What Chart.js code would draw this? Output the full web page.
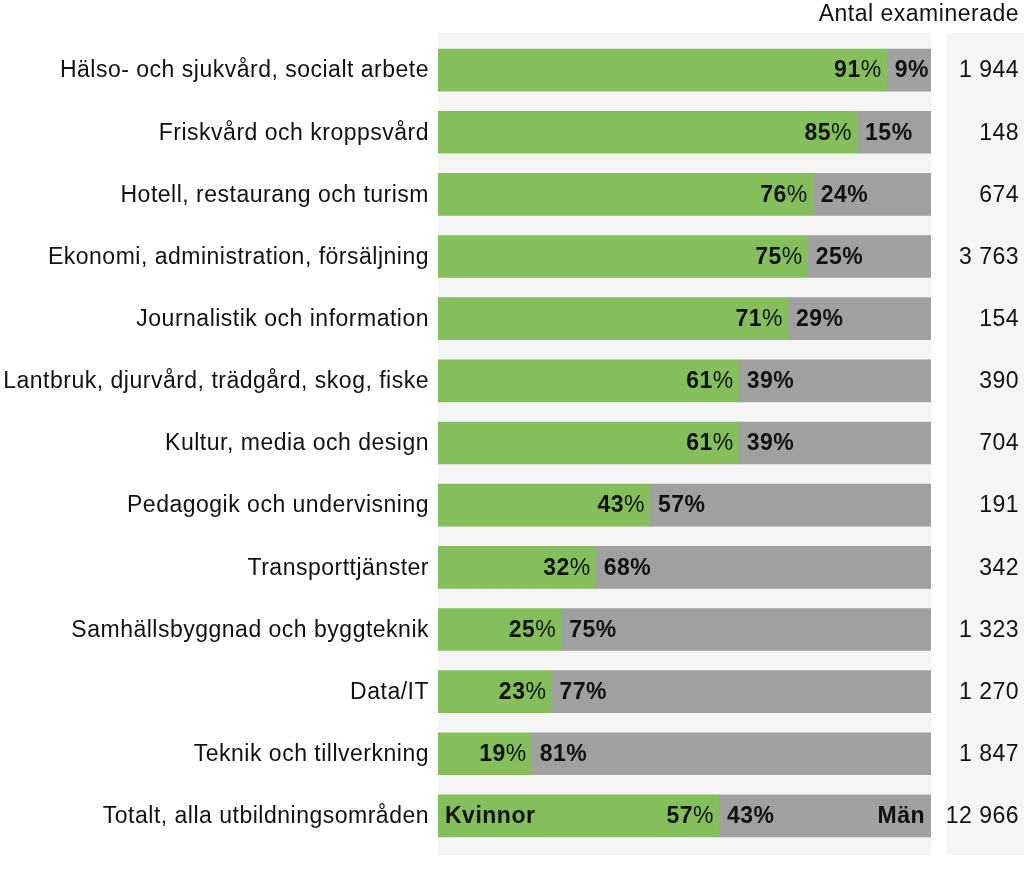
<!DOCTYPE html>
<html>
<head>
<meta charset="utf-8">
<script src="https://cdn.jsdelivr.net/npm/chart.js@4.4.1/dist/chart.umd.min.js"></script>
<style>
  html, body { margin: 0; padding: 0; background: #fff; }
  #wrap { width: 1024px; height: 892px; }
</style>
</head>
<body>
<div id="wrap"><canvas id="chart" width="1024" height="892"></canvas></div>
<script>
const categories = [
  'Hälso- och sjukvård, socialt arbete',
  'Friskvård och kroppsvård',
  'Hotell, restaurang och turism',
  'Ekonomi, administration, försäljning',
  'Journalistik och information',
  'Lantbruk, djurvård, trädgård, skog, fiske',
  'Kultur, media och design',
  'Pedagogik och undervisning',
  'Transporttjänster',
  'Samhällsbyggnad och byggteknik',
  'Data/IT',
  'Teknik och tillverkning',
  'Totalt, alla utbildningsområden'
];
const kvinnor = [91, 85, 76, 75, 71, 61, 61, 43, 32, 25, 23, 19, 57];
const man = [9, 15, 24, 25, 29, 39, 39, 57, 68, 75, 77, 81, 43];
const antal = ['1 944', '148', '674', '3 763', '154', '390', '704', '191', '342', '1 323', '1 270', '1 847', '12 966'];

const FONT = '"Liberation Sans", Arial, Helvetica, sans-serif';
const GREEN = '#84bf5b';
const GRAY = '#a0a0a0';

const backgroundPlugin = {
  id: 'panels',
  beforeDraw(chart) {
    const { ctx, chartArea } = chart;
    ctx.save();
    ctx.fillStyle = '#f5f5f5';
    ctx.fillRect(chartArea.left, chartArea.top - 6, chartArea.right - chartArea.left, chartArea.bottom - chartArea.top + 14);
    ctx.fillRect(chartArea.right + 15, chartArea.top - 6, chart.width - chartArea.right - 15, chartArea.bottom - chartArea.top + 14);
    ctx.restore();
  }
};

const labelPlugin = {
  id: 'labels',
  afterDatasetsDraw(chart) {
    const { ctx, chartArea } = chart;
    const x = chart.scales.x;
    const y = chart.scales.y;
    ctx.save();
    ctx.textBaseline = 'middle';
    ctx.fillStyle = '#111';
    ctx.letterSpacing = '0.5px';
    categories.forEach((c, i) => {
      const cy = y.getPixelForValue(i) + 1;
      const bx = x.getPixelForValue(kvinnor[i]);
      // category name, left of the plot
      ctx.font = '23px ' + FONT;
      ctx.textAlign = 'right';
      ctx.fillText(c, chartArea.left - 9, cy);
      // count column
      ctx.fillText(antal[i], chart.width - 5, cy);
      // green label: bold digits, plain percent sign
      const pw = ctx.measureText('%').width;
      ctx.fillText('%', bx - 5, cy);
      ctx.font = 'bold 23px ' + FONT;
      ctx.fillText(String(kvinnor[i]), bx - 5 - pw, cy);
      // gray label
      ctx.textAlign = 'left';
      ctx.fillText(man[i] + '%', bx + 8, cy);
    });
    const last = categories.length - 1;
    const ly = y.getPixelForValue(last) + 1;
    ctx.font = 'bold 23px ' + FONT;
    ctx.textAlign = 'left';
    ctx.fillText('Kvinnor', chartArea.left + 7, ly);
    ctx.textAlign = 'right';
    ctx.fillText('Män', chartArea.right - 6, ly);
    ctx.font = '23px ' + FONT;
    ctx.fillText('Antal examinerade', chart.width - 5, 15);
    ctx.restore();
  }
};

new Chart(document.getElementById('chart'), {
  type: 'bar',
  data: {
    labels: categories,
    datasets: [
      { label: 'Kvinnor', data: kvinnor, backgroundColor: GREEN },
      { label: 'Män', data: man, backgroundColor: GRAY }
    ]
  },
  options: {
    indexAxis: 'y',
    responsive: false,
    animation: false,
    layout: { padding: { top: 39, bottom: 45, right: 93, left: 0 } },
    datasets: { bar: { barThickness: 42 } },
    plugins: { legend: { display: false }, tooltip: { enabled: false } },
    scales: {
      x: { stacked: true, min: 0, max: 100, display: false },
      y: {
        stacked: true,
        grid: { display: false },
        border: { display: false },
        afterFit(scale) { scale.width = 438; },
        ticks: { display: false }
      }
    }
  },
  plugins: [backgroundPlugin, labelPlugin]
});
</script>
</body>
</html>
